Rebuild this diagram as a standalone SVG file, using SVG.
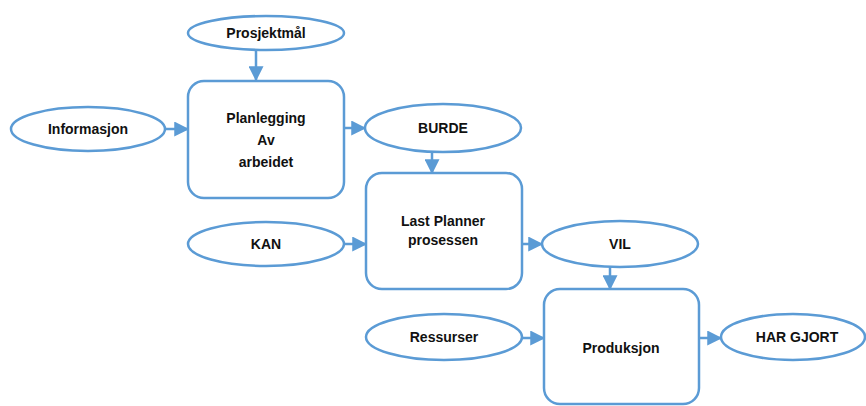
<svg xmlns="http://www.w3.org/2000/svg" width="866" height="406" viewBox="0 0 866 406">
  <style>
    .shape { fill: #ffffff; stroke: #5b9bd5; stroke-width: 2.5; }
    .lbl { font-family: "Liberation Sans", Arial, sans-serif; font-weight: bold; font-size: 14px; fill: #111111; text-anchor: middle; }
    .conn { stroke: #5b9bd5; stroke-width: 2.5; fill: none; marker-end: url(#arrow); }
  </style>
  <defs>
    <marker id="arrow" markerWidth="6" markerHeight="6" refX="5.5" refY="3" orient="auto" markerUnits="strokeWidth">
      <path d="M0,0 L6,3 L0,6 Z" fill="#5b9bd5"/>
    </marker>
  </defs>
  <rect width="866" height="406" fill="#ffffff"/>

  <g id="connectors">
    <line class="conn" x1="256" y1="50" x2="256" y2="80"/>
    <line class="conn" x1="166" y1="129" x2="188" y2="129"/>
    <line class="conn" x1="344" y1="128" x2="365" y2="128"/>
    <line class="conn" x1="432" y1="152" x2="432" y2="173"/>
    <line class="conn" x1="344" y1="244" x2="366" y2="244"/>
    <line class="conn" x1="522" y1="244" x2="542" y2="244"/>
    <line class="conn" x1="610" y1="267" x2="610" y2="289"/>
    <line class="conn" x1="522" y1="338" x2="544" y2="338"/>
    <line class="conn" x1="699" y1="338" x2="721" y2="338"/>
  </g>

  <g id="prosjektmal">
    <ellipse class="shape" cx="266" cy="33" rx="78" ry="17"/>
    <text class="lbl" x="266" y="38">Prosjektmål</text>
  </g>

  <g id="informasjon">
    <ellipse class="shape" cx="88" cy="129" rx="77" ry="22"/>
    <text class="lbl" x="88" y="134">Informasjon</text>
  </g>

  <g id="planlegging">
    <rect class="shape" x="188" y="81" width="156" height="117" rx="16"/>
    <text class="lbl" x="266" y="123">Planlegging</text>
    <text class="lbl" x="266" y="145">Av</text>
    <text class="lbl" x="266" y="167">arbeidet</text>
  </g>

  <g id="burde">
    <ellipse class="shape" cx="443" cy="128" rx="78" ry="24"/>
    <text class="lbl" x="443" y="133">BURDE</text>
  </g>

  <g id="kan">
    <ellipse class="shape" cx="266" cy="244" rx="78" ry="22"/>
    <text class="lbl" x="266" y="249">KAN</text>
  </g>

  <g id="last-planner">
    <rect class="shape" x="366" y="173" width="156" height="116" rx="16"/>
    <text class="lbl" x="443" y="226">Last Planner</text>
    <text class="lbl" x="443" y="245">prosessen</text>
  </g>

  <g id="vil">
    <ellipse class="shape" cx="620" cy="244" rx="78" ry="23"/>
    <text class="lbl" x="620" y="249">VIL</text>
  </g>

  <g id="ressurser">
    <ellipse class="shape" cx="444" cy="337" rx="78" ry="23"/>
    <text class="lbl" x="444" y="342">Ressurser</text>
  </g>

  <g id="produksjon">
    <rect class="shape" x="544" y="289" width="155" height="115" rx="16"/>
    <text class="lbl" x="621" y="353">Produksjon</text>
  </g>

  <g id="har-gjort">
    <ellipse class="shape" cx="793" cy="337" rx="72" ry="23"/>
    <text class="lbl" x="797" y="342">HAR GJORT</text>
  </g>
</svg>
